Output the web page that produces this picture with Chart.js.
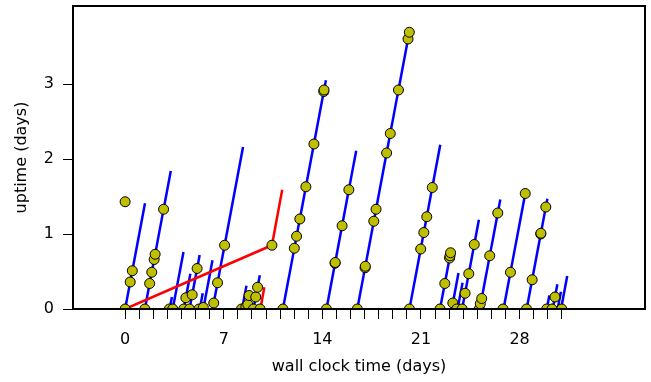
<!DOCTYPE html>
<html>
<head>
<meta charset="utf-8">
<script src="https://cdn.jsdelivr.net/npm/chart.js@4"></script>
<style>
  html, body { margin: 0; padding: 0; background: #fff; }
  #wrap { width: 651px; height: 382px; }
</style>
</head>
<body>
<div id="wrap"><canvas id="uptime-chart" width="651" height="382"></canvas></div>
<script>
// blue runs: day the box came up, and the uptime it reached before going down
const segStart  = [0.00, 1.40, 3.16, 3.38, 4.16, 4.57, 5.30, 5.55, 6.21, 8.30, 8.60, 9.11,
                   11.20, 14.29, 16.48, 20.18, 22.35, 23.18, 23.60, 23.92, 25.17, 26.86, 28.50,
                   29.93, 30.35, 30.70, 30.94];
const segUptime = [1.41, 1.84, 0.16, 0.76, 0.47, 0.72, 0.21, 0.65, 2.16, 0.31, 0.24, 0.45,
                   3.05, 2.11, 3.71, 2.19, 0.77, 0.48, 0.35, 1.19, 1.46, 1.60, 1.47,
                   0.18, 0.33, 0.23, 0.44];

// sampled uptime (yellow dots)
const pointDay = [0.00, 0.36, 0.51, 0.00,
                  1.40, 1.74, 1.89, 2.06, 2.13, 2.73,
                  3.14, 3.38, 4.16, 4.31, 4.57, 4.76, 5.11, 5.24, 5.55,
                  6.29, 6.56, 7.06,
                  8.26, 8.57, 8.71, 8.80, 9.11, 9.27, 9.40, 9.58, 10.42,
                  11.20, 12.01, 12.17, 12.40, 12.83, 13.40, 14.10, 14.12,
                  14.29, 14.90, 14.91, 15.40, 15.88,
                  16.48, 17.03, 17.05, 17.65, 17.81, 18.56, 18.82, 19.40, 20.08, 20.17,
                  20.18, 20.98, 21.20, 21.41, 21.80,
                  22.35, 22.69, 23.03, 23.06, 23.10,
                  23.26, 23.54,
                  23.92, 24.13, 24.39, 24.78,
                  25.14, 25.21, 25.31, 25.88, 26.45,
                  26.82, 27.35, 28.40,
                  28.49, 28.89, 29.50, 29.51, 29.86,
                  29.92, 30.30, 30.51, 30.99];
const pointUptime = [0.00, 0.36, 0.51, 1.43,
                     0.00, 0.34, 0.49, 0.66, 0.73, 1.33,
                     0.00, 0.00, 0.00, 0.15, 0.00, 0.19, 0.54, 0.00, 0.02,
                     0.08, 0.35, 0.85,
                     0.00, 0.03, 0.06, 0.18, 0.00, 0.16, 0.29, 0.00, 0.85,
                     0.00, 0.81, 0.97, 1.20, 1.63, 2.20, 2.90, 2.92,
                     0.00, 0.61, 0.62, 1.11, 1.59,
                     0.00, 0.55, 0.57, 1.17, 1.33, 2.08, 2.34, 2.92, 3.60, 3.69,
                     0.00, 0.80, 1.02, 1.23, 1.62,
                     0.00, 0.34, 0.68, 0.71, 0.75,
                     0.08, 0.00,
                     0.00, 0.21, 0.47, 0.86,
                     0.00, 0.07, 0.14, 0.71, 1.28,
                     0.00, 0.49, 1.54,
                     0.00, 0.39, 1.00, 1.01, 1.36,
                     0.00, 0.00, 0.16, 0.00];

// red path
const redDay = [0, 10.42, 11.15];
const redUptime = [0, 0.85, 1.59];
const redShortDay = [9.60, 9.88];
const redShortUptime = [0, 0.29];

const xTickLabels = [0, 7, 14, 21, 28];
const yTickLabels = [0, 1, 2, 3];
const lastTickDay = 31; // small day ticks run 0..31

Chart.defaults.font.family = 'DejaVu Sans';
Chart.defaults.font.size = 16;
Chart.defaults.color = '#000';

const toXY = (xs, ys) => xs.map((x, i) => ({ x: x, y: ys[i] }));

const blueSets = segStart.map((s, i) => ({
    data: [{ x: s, y: 0 }, { x: s + segUptime[i], y: segUptime[i] }],
    showLine: true,
    borderColor: '#0000ff',
    borderWidth: 2.5,
    pointRadius: 0,
    order: 3
}));

const redSets = [
    { data: toXY(redDay, redUptime), showLine: true, borderColor: '#ff0000', borderWidth: 2.5, pointRadius: 0, order: 2 },
    { data: toXY(redShortDay, redShortUptime), showLine: true, borderColor: '#ff0000', borderWidth: 2.5, pointRadius: 0, order: 2 }
];

const dotSet = {
    data: toXY(pointDay, pointUptime),
    backgroundColor: '#bfbf00',
    borderColor: '#000',
    borderWidth: 1,
    pointRadius: 5,
    clip: 0,
    order: 0
};

// box round the plot area
const framePlugin = {
    id: 'frame',
    afterDatasetsDraw(chart) {
        const a = chart.chartArea;
        const ctx = chart.ctx;
        ctx.save();
        ctx.strokeStyle = '#000';
        ctx.lineWidth = 2;
        ctx.strokeRect(a.left, a.top, a.right - a.left, a.bottom - a.top);
        ctx.restore();
    }
};

// no extra room for half tick labels, the box is set by layout padding
const noLabelPadding = (scale) => {
    scale.paddingTop = 0;
    scale.paddingBottom = 0;
    scale.paddingLeft = 0;
    scale.paddingRight = 0;
};

new Chart(document.getElementById('uptime-chart').getContext('2d'), {
    type: 'scatter',
    data: { datasets: [dotSet, ...redSets, ...blueSets] },
    options: {
        responsive: false,
        animation: false,
        layout: { padding: { top: 6, right: 5, left: 0, bottom: 0 } },
        plugins: { legend: { display: false }, tooltip: { enabled: false } },
        scales: {
            x: {
                type: 'linear',
                min: -3.7,
                max: 36.9,
                afterBuildTicks: (scale) => {
                    const t = [];
                    for (let d = 0; d <= lastTickDay; d++) t.push({ value: d });
                    scale.ticks = t;
                },
                afterFit: (scale) => { scale.height = 73; noLabelPadding(scale); },
                ticks: {
                    autoSkip: false,
                    maxRotation: 0,
                    padding: 11,
                    callback: (value) => xTickLabels.includes(value) ? String(value) : ''
                },
                grid: { drawOnChartArea: false, drawTicks: true, tickLength: 10, tickColor: '#000', tickWidth: 1 },
                border: { display: false },
                title: { display: true, text: 'wall clock time (days)', padding: { top: 4, bottom: 6 } }
            },
            y: {
                type: 'linear',
                min: 0,
                max: 4.04,
                afterBuildTicks: (scale) => {
                    scale.ticks = yTickLabels.map(v => ({ value: v }));
                },
                afterFit: (scale) => { scale.width = 73; noLabelPadding(scale); },
                ticks: { padding: 9 },
                grid: { drawOnChartArea: false, drawTicks: true, tickLength: 10, tickColor: '#000', tickWidth: 1 },
                border: { display: false },
                title: { display: true, text: 'uptime (days)', padding: { top: 12, bottom: 4 } }
            }
        }
    },
    plugins: [framePlugin]
});
</script>
</body>
</html>
